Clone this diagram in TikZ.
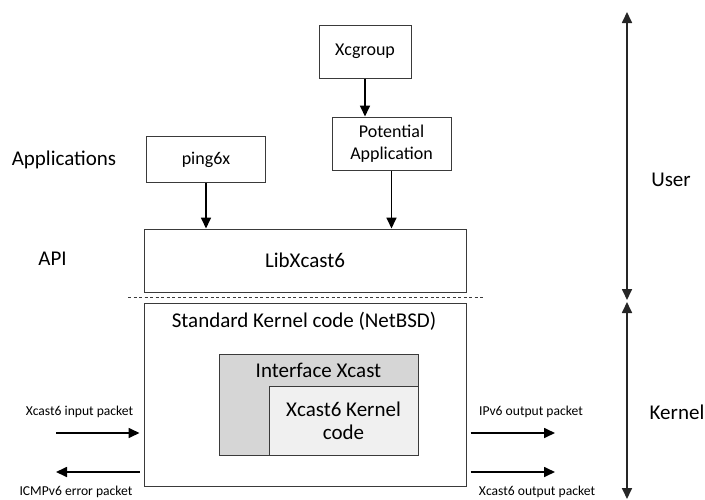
\documentclass[tikz,border=0pt]{standalone}
\usepackage{fontspec}
\setmainfont{Carlito}
\usetikzlibrary{arrows.meta}
\definecolor{boxline}{HTML}{3A3A3A}
\definecolor{ifgray}{HTML}{D6D6D6}
\definecolor{corefill}{HTML}{F0F0F0}
\begin{document}
\begin{tikzpicture}[x=1pt,y=-1pt,
  box/.style={draw=boxline,line width=1pt,rectangle,inner sep=0pt,align=center,font=\fontsize{18}{22.3}\selectfont},
  big/.style={font=\fontsize{21}{23.3}\selectfont},
  small/.style={font=\fontsize{13.6}{15}\selectfont},
  flow/.style={line width=1.7pt,-{Triangle[length=11pt,width=10pt]}},
  span/.style={draw=black!85,line width=1.7pt,{Triangle[length=11pt,width=10pt]}-{Triangle[length=11pt,width=10pt]}}]
\useasboundingbox (0,0) rectangle (705,499);

% user space boxes
\node[box,minimum width=92pt,minimum height=53pt] (xcg) at (365,51.5) {Xcgroup};
\node[box,minimum width=119pt,minimum height=53pt] (pot) at (391.5,143.5) {Potential\\Application};
\node[box,minimum width=119pt,minimum height=46pt] (ping) at (206,159.5) {ping6x};
\node[box,big,minimum width=322pt,minimum height=63pt] (lib) at (305,260.5) {LibXcast6};

% kernel boxes
\node[box,minimum width=322pt,minimum height=183pt] (kern) at (305,394.5) {};
\node[big] (kerntitle) at (304,321.5) {Standard Kernel code (NetBSD)};
\node[box,fill=ifgray,minimum width=199pt,minimum height=101pt] (iface) at (318.5,404.5) {};
\node[big] (ifacetitle) at (318.5,370.5) {Interface Xcast};
\node[box,fill=corefill,big,minimum width=149pt,minimum height=69pt] (core) at (343.5,420.5) {Xcast6 Kernel\\code};

% layer labels
\node[big] (applbl) at (64,159.5) {Applications};
\node[big] (apilbl) at (52.5,258.5) {API};
\node[big] (userlbl) at (671,180) {User};
\node[big] (kernlbl) at (677,412) {Kernel};

% packet labels
\node[small] (inlbl) at (79.5,412) {Xcast6 input packet};
\node[small] (icmplbl) at (76,492) {ICMPv6 error packet};
\node[small] (ip6lbl) at (531,412) {IPv6 output packet};
\node[small] (outlbl) at (537,492) {Xcast6 output packet};

% connectors
\draw[flow] (xcg.south) -- (xcg.south |- pot.north);
\draw[flow] (ping.south) -- (ping.south |- lib.north);
\draw[flow] (pot.south) -- (pot.south |- lib.north);

% boundary between user and kernel space
\coordinate (sepL) at (128,297);
\coordinate (sepR) at (483,297);
\draw[boxline,line width=0.9pt,dash pattern=on 3pt off 2.5pt] (sepL) -- (sepR);

% packet flows
\coordinate (inA) at (56,433);
\coordinate (icmpA) at (56,472);
\coordinate (ip6B) at (555,433);
\coordinate (outB) at (555,472);
\draw[flow,shorten >=4pt] (inA) -- (inA -| kern.west);
\draw[flow,shorten <=4pt] (icmpA -| kern.west) -- (icmpA);
\draw[flow,shorten <=4pt] (ip6B -| kern.east) -- (ip6B);
\draw[flow,shorten <=4pt] (outB -| kern.east) -- (outB);

% user / kernel extent
\coordinate (uTop) at (627,12);
\coordinate (uBot) at (627,300);
\coordinate (kTop) at (627,302);
\coordinate (kBot) at (627,499);
\draw[span] (uTop) -- (uBot);
\draw[span] (kTop) -- (kBot);
\end{tikzpicture}
\end{document}
